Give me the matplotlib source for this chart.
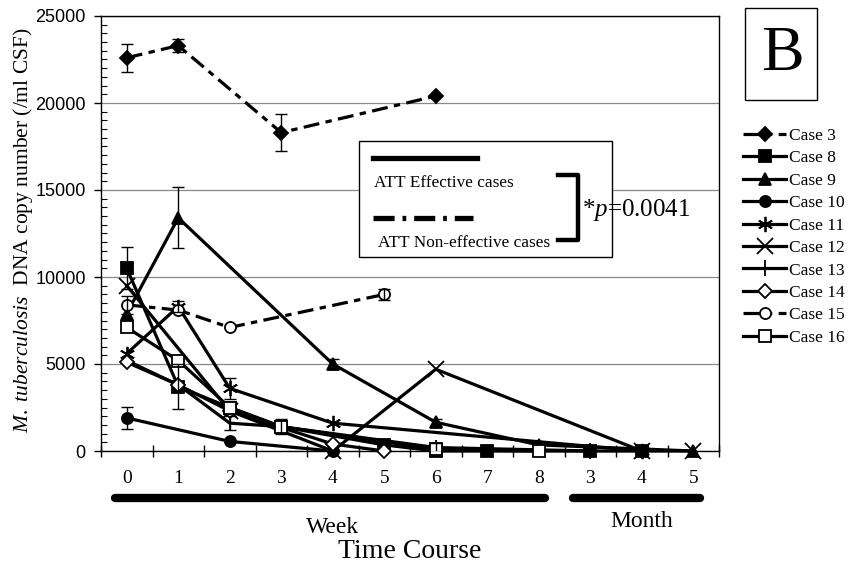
import numpy as np
import matplotlib
matplotlib.use("Agg")
import matplotlib.pyplot as plt
from matplotlib.lines import Line2D
from matplotlib.patches import Rectangle

plt.rcParams['font.family'] = ['Liberation Serif', 'DejaVu Serif']
plt.rcParams['mathtext.fontset'] = 'custom'
plt.rcParams['mathtext.rm'] = 'Liberation Serif'
plt.rcParams['mathtext.it'] = 'Liberation Serif:italic'

# ---- data ----
tick_labels = ["0", "1", "2", "3", "4", "5", "6", "7", "8", "3", "4", "5"]

case3_x = [0, 1, 3, 6]
case3_y = [22600, 23300, 18300, 20400]
case3_e = [800, 350, 1050, 0]

case8_x = [0, 1, 2, 3, 5, 6, 7, 9, 10]
case8_y = [10500, 3700, 2500, 1400, 350, 0, 0, 0, 0]
case8_e = [1200, 1300, 0, 450, 0, 0, 0, 0, 0]

case9_x = [0, 1, 4, 6, 8, 11]
case9_y = [7900, 13400, 5000, 1650, 350, 0]
case9_e = [0, 1750, 300, 200, 0, 0]

case10_x = [0, 2, 4]
case10_y = [1900, 550, 0]
case10_e = [650, 0, 0]

case11_x = [0, 1, 2, 4, 10]
case11_y = [5600, 8300, 3600, 1600, 0]
case11_e = [0, 300, 600, 0, 0]

case12_x = [0, 2, 4, 6, 10, 11]
case12_y = [9500, 2300, 0, 4700, 0, 0]
case12_e = [0, 0, 0, 0, 0, 0]

case13_x = [0, 1, 2, 3, 6, 9]
case13_y = [5200, 3800, 1600, 1400, 200, 0]
case13_e = [0, 0, 400, 0, 250, 0]

case14_x = [0, 1, 2, 4, 5]
case14_y = [5100, 3800, 2300, 400, 0]
case14_e = [0, 0, 0, 0, 0]

case15_x = [0, 1, 2, 5]
case15_y = [8400, 8100, 7100, 9000]
case15_e = [500, 0, 0, 300]

case16_x = [0, 1, 2, 3, 6, 8]
case16_y = [7100, 5200, 2500, 1400, 100, 0]
case16_e = [0, 0, 0, 0, 0, 0]

names = ["Case 3", "Case 8", "Case 9", "Case 10", "Case 11", "Case 12",
         "Case 13", "Case 14", "Case 15", "Case 16"]

series = [
    (case3_x, case3_y, case3_e, 'D', 'k', True),
    (case8_x, case8_y, case8_e, 's', 'k', False),
    (case9_x, case9_y, case9_e, '^', 'k', False),
    (case10_x, case10_y, case10_e, 'o', 'k', False),
    (case11_x, case11_y, case11_e, (6, 2, 0), 'k', False),
    (case12_x, case12_y, case12_e, 'x', 'k', False),
    (case13_x, case13_y, case13_e, '|', 'k', False),
    (case14_x, case14_y, case14_e, 'D', 'w', False),
    (case15_x, case15_y, case15_e, 'o', 'w', True),
    (case16_x, case16_y, case16_e, 's', 'w', False),
]

fig = plt.figure(figsize=(8.48, 5.71), dpi=100)
ax = fig.add_axes([101/848, 1-451/571, (719-101)/848, (451-16)/571])

handles = []
for (xs, ys, es, mk, fc, dashed), name in zip(series, names):
    ms = 8
    if mk == 'D':
        ms = 7
    if mk == '^':
        ms = 8.5
    if mk in ('x', '|') or isinstance(mk, tuple):
        ms = 11
    kw = {}
    if dashed:
        kw['dashes'] = [5, 2, 2, 2]
    line, = ax.plot(xs, ys, color='k', lw=2.3, marker=mk, markersize=ms,
                    markerfacecolor=fc, markeredgecolor='k', markeredgewidth=1.3,
                    zorder=3, clip_on=False, **kw)
    err = np.array(es, dtype=float)
    sel = err > 0
    if sel.any():
        ax.errorbar(np.array(xs)[sel], np.array(ys)[sel], yerr=err[sel], fmt='none',
                    ecolor='k', elinewidth=1.0, capsize=4, capthick=1.0, zorder=4)
    handles.append(line)

ax.set_xlim(-0.5, 11.5)
ax.set_ylim(0, 25000)
ax.set_xticks(range(12))
ax.set_xticklabels(tick_labels, fontsize=14)
ax.tick_params(axis='x', which='major', length=0, pad=14)
ax.set_xticks(np.arange(-0.5, 12, 1), minor=True)
ax.tick_params(axis='x', which='minor', direction='inout', length=8, width=1)
ax.set_yticks(np.arange(0, 25001, 5000))
ax.set_yticks(np.arange(0, 25001, 500), minor=True)
ax.tick_params(axis='y', which='major', direction='out', length=5, width=1, pad=6)
ax.tick_params(axis='y', which='minor', direction='in', length=4, width=0.8)
for lab in ax.get_yticklabels():
    lab.set_fontfamily('Liberation Sans')
    lab.set_fontsize(13)
ax.yaxis.grid(True, which='major', color='#888888', lw=0.9)
ax.set_axisbelow(True)
for s in ax.spines.values():
    s.set_linewidth(1.0)

ax.set_ylabel(r"$\it{M.\ tuberculosis}$  DNA copy number (/ml CSF)", fontsize=15.5)
ax.yaxis.set_label_coords(-0.106, 0.508)

# Week / Month bars
tr = ax.get_xaxis_transform()
ax.plot([-0.22, 8.12], [-0.108, -0.108], color='k', lw=6, solid_capstyle='round',
        transform=tr, clip_on=False)
ax.plot([8.66, 11.14], [-0.108, -0.108], color='k', lw=6, solid_capstyle='round',
        transform=tr, clip_on=False)
ax.text(4, -0.175, "Week", transform=tr, ha='center', va='center', fontsize=17)
ax.text(10, -0.163, "Month", transform=tr, ha='center', va='center', fontsize=17)
fig.text(410/848, 1-552/571, "Time Course", ha='center', va='center', fontsize=20)

# Inset legend box
fig.patches.append(Rectangle((359/848, 1-257/571), (612-359)/848, (257-141)/571,
                             transform=fig.transFigure, fill=True, facecolor='white',
                             edgecolor='k', lw=1.0, zorder=5))
fig.lines.append(Line2D([373/848, 477/848], [1-158/571, 1-158/571], color='k', lw=3.8,
                        transform=fig.transFigure, zorder=6))
fig.text(374/848, 1-183/571, "ATT Effective cases", fontsize=12.4, va='center', ha='left', zorder=6)
fig.lines.append(Line2D([373/848, 473/848], [1-218/571, 1-218/571], color='k', lw=3.8,
                        dashes=[4, 1.5, 0.7, 1.5], transform=fig.transFigure, zorder=6))
fig.text(378/848, 1-243/571, "ATT Non-effective cases", fontsize=12.4, va='center', ha='left', zorder=6)
fig.lines.append(Line2D([558/848, 578/848, 578/848, 558/848],
                        [1-175/571, 1-175/571, 1-240/571, 1-240/571], color='k', lw=3.2,
                        transform=fig.transFigure, zorder=6))
fig.text(582/848, 1-210/571, r"*$\it{p}$=0.0041", fontsize=18, va='center', ha='left', zorder=6)

# B box
fig.patches.append(Rectangle((745/848, 1-100/571), (817-745)/848, (100-8)/571,
                             transform=fig.transFigure, fill=True, facecolor='white',
                             edgecolor='k', lw=1.0))
fig.text(782/848, 1-55/571, "B", fontsize=46, ha='center', va='center')

# right legend
leg = fig.legend(handles, names, loc='upper left', bbox_to_anchor=(736/848, 1-121/571),
                 frameon=False, fontsize=12.5, handlelength=2.5, handletextpad=0.15,
                 labelspacing=0.36, borderaxespad=0)

fig.savefig("out.png", dpi=100)
